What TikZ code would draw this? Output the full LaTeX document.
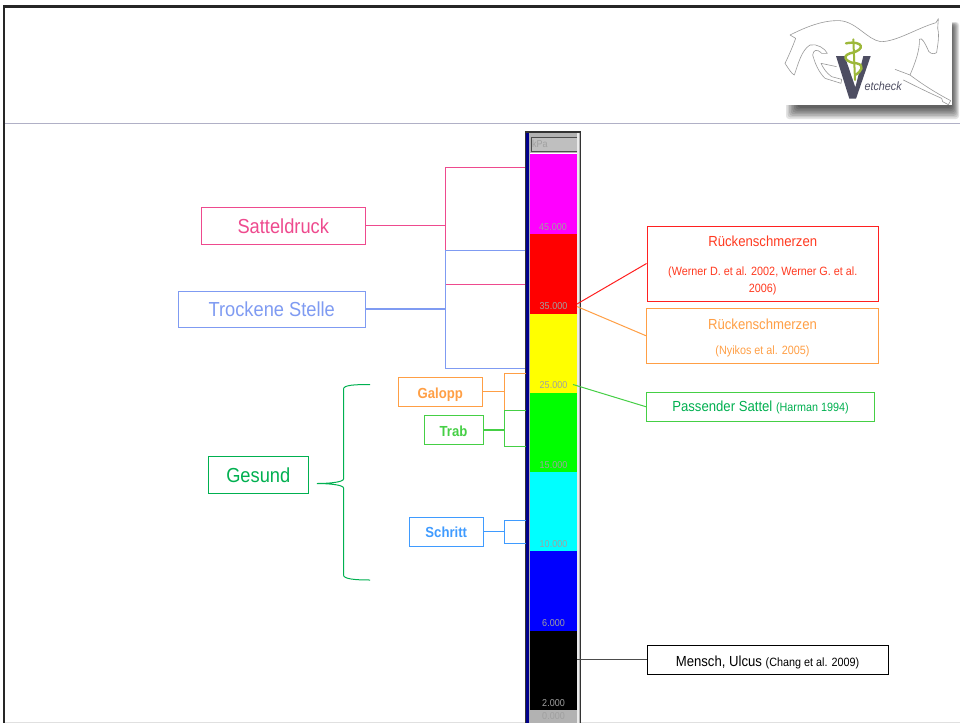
\documentclass[tikz,border=0pt]{standalone}
\usepackage{fontspec}
\setmainfont[FakeStretch=0.9]{Liberation Sans}
\definecolor{cpink}{HTML}{EE4A8E}
\definecolor{cblue}{HTML}{7F9BF2}
\definecolor{corange}{HTML}{FF9F45}
\definecolor{ctrab}{HTML}{45CF45}
\definecolor{csky}{HTML}{3F9BFF}
\definecolor{cgreen}{HTML}{00B050}
\definecolor{cred}{HTML}{FF2020}
\definecolor{credtext}{HTML}{FF3A20}
\definecolor{cscale}{HTML}{A0A0A0}
\definecolor{rmag}{RGB}{255,0,255}
\definecolor{rred}{RGB}{255,0,0}
\definecolor{ryel}{RGB}{255,255,0}
\definecolor{rgrn}{RGB}{0,255,0}
\definecolor{rcya}{RGB}{0,255,255}
\definecolor{rblu}{RGB}{0,0,255}
\definecolor{rnavy}{RGB}{0,0,140}
\definecolor{rolive}{HTML}{9DB83A}
\definecolor{rslate}{HTML}{4E4E62}
\definecolor{rhead}{HTML}{B0B0C6}
\tikzset{
  box/.style={draw,line width=1pt,rectangle,inner sep=0pt,align=center,anchor=north west},
  conn/.style={line width=1pt},
  segm/.style={rectangle,inner sep=0pt,minimum width=47pt,anchor=north west,fill=#1},
  tick/.style={font=\fontsize{10}{11}\selectfont,text=cscale,inner sep=0pt},
  big/.style={font=\fontsize{20.3}{22}\selectfont},
  mid/.style={font=\fontsize{14.6}{16}\selectfont},
  bold/.style={font=\fontsize{14.6}{16}\selectfont\bfseries},
}
\newcommand{\cit}[1]{{\fontsize{12}{13}\selectfont #1}}
\newcommand{\dn}[2]{\setbox0\hbox{\color{.}#2}\rule{0pt}{\dimexpr\ht0+#1pt+#1pt\relax}\box0 }
\begin{document}
\begin{tikzpicture}[x=1pt,y=-1pt]
\useasboundingbox (0,0) rectangle (960,723);
\fill[white] (0,0) rectangle (960,723);
% frame
\fill[black!85] (3,5) rectangle (960,7.5);
\fill[black!85] (3,5) rectangle (5.2,723);
\draw[line width=1.2pt,color=rhead] (5,123.5) -- (960,123.5);
\draw[line width=1pt,color=black!12] (5,722.5) -- (960,722.5);
% logo shadow
\foreach \o in {0,1,...,7}{
  \fill[black,opacity=.11,rounded corners=3pt] (786+1.6*\o,22+\o*.5) rectangle (959-\o,119-1.6*\o);
}
\fill[white] (785,18) rectangle (952,105);
\begin{scope}[shift={(760,0)},x=.33333pt,y=-.33333pt]
\draw[black!40,line width=.6pt,line join=round]
  (90,105) .. controls (140,80) and (190,60) .. (240,62)
  .. controls (290,66) and (320,118) .. (362,125)
  .. controls (410,125) and (470,85) .. (528,68)
  -- (535,56) -- (533,85) .. controls (540,110) and (530,150) .. (530,158)
  .. controls (520,165) and (505,160) .. (502,145)
  .. controls (495,130) and (485,110) .. (478,118)
  .. controls (480,150) and (465,190) .. (450,225)
  -- (405,208);
\draw[black!40,line width=.6pt,line join=round]
  (450,225) .. controls (490,255) and (530,280) .. (572,302) -- (565,314) -- (548,305) -- (545,295)
  .. controls (510,280) and (460,255) .. (430,240);
\draw[black!40,line width=.6pt,line join=round]
  (90,105) -- (107,115) .. controls (98,140) and (85,170) .. (75,190)
  .. controls (85,205) and (95,222) .. (103,225)
  .. controls (115,190) and (125,150) .. (150,135)
  .. controls (170,130) and (195,145) .. (202,160)
  -- (185,160) .. controls (170,145) and (160,150) .. (158,165)
  .. controls (165,190) and (175,215) .. (195,235)
  -- (243,250) -- (245,238) -- (215,230)
  .. controls (200,220) and (190,205) .. (183,190)
  -- (230,200);
\fill[rslate] (228,168) -- (254,168) -- (286,262) -- (310,168) -- (332,168) -- (288,296) -- (268,296) -- cycle;
\draw[rolive,line width=2pt,line cap=round] (280,118) -- (285,240);
\draw[rolive,line width=2.4pt,line cap=round]
  (258,130) .. controls (310,120) and (320,150) .. (270,160)
  .. controls (240,170) and (265,190) .. (290,190)
  .. controls (315,195) and (305,215) .. (285,225);
\node[inner sep=0pt,anchor=west,font=\fontsize{12}{13}\selectfont\itshape,text=rslate] (logotext) at (313,258) {etcheck};
\end{scope}
% colour bar
\fill[black!80] (525,131) rectangle (581,723);
\fill[black!30] (529,133) rectangle (580,723);
\fill[black!8] (577,133) rectangle (578.5,723);
\fill[rnavy] (525.5,133) rectangle (528.8,723);
\node[rectangle,inner sep=0pt,minimum width=46pt,minimum height=14pt,fill=black!25,anchor=north west] (kpa) at (531,137) {};
\draw[black!70,line width=1pt] (kpa.south east) -- (kpa.south west) -- (kpa.north west) -- (kpa.north east);
\fill[white] (530,152.5) rectangle (577,154);
\node[segm=rmag,minimum height=80pt] (s1) at (530,154) {};
\node[segm=rred,minimum height=79.5pt] (s2) at (530,234) {};
\node[segm=ryel,minimum height=79.5pt] (s3) at (530,313.5) {};
\node[segm=rgrn,minimum height=79pt] (s4) at (530,393) {};
\node[segm=rcya,minimum height=79pt] (s5) at (530,472) {};
\node[segm=rblu,minimum height=79.5pt] (s6) at (530,551) {};
\node[segm=black,minimum height=79.5pt] (s7) at (530,630.5) {};
\node[tick,anchor=west] (tk) at (532,143.5) {kPa};
\node[tick] (t45) at (553,227.5) {45.000};
\node[tick] (t35) at (553.5,306.5) {35.000};
\node[tick] (t25) at (553.5,385.5) {25.000};
\node[tick] (t15) at (553.5,465) {15.000};
\node[tick] (t10) at (553.5,544.5) {10.000};
\node[tick] (t6) at (553.5,623.5) {6.000};
\node[tick] (t2) at (553.5,703) {2.000};
\node[tick] (t0) at (553.5,716.5) {0.000};
% left boxes
\node[box,draw=cpink,text=cpink,big,minimum width=164.5pt,minimum height=37pt] (satt) at (200.5,206.5) {\dn{1}{Satteldruck}};
\node[box,draw=cblue,text=cblue,big,minimum width=187.5pt,minimum height=36pt] (trock) at (177.5,290.5) {\dn{.5}{Trockene Stelle}};
\node[box,draw=cgreen,text=cgreen,big,minimum width=100.5pt,minimum height=37pt] (ges) at (207.5,455.5) {\dn{1}{Gesund}};
\node[box,draw=corange,text=corange,bold,minimum width=84.5pt,minimum height=29.5pt] (gal) at (397.5,376.5) {\dn{2.5}{Galopp}};
\node[box,draw=ctrab,text=ctrab,bold,minimum width=59pt,minimum height=29pt] (trab) at (423.5,415) {\dn{1}{Trab}};
\node[box,draw=csky,text=csky,bold,minimum width=73.5pt,minimum height=29.5pt] (schr) at (409,516.5) {\dn{1}{Schritt}};
% right boxes
\node[box,draw=cred,text=credtext,mid,minimum width=231.5pt,minimum height=75pt] (rredb) at (646.5,225.5) {\rule{0pt}{15pt}R\"uckenschmerzen\\[13pt]\cit{(Werner D. et al. 2002, Werner G. et al.}\\[1pt]\cit{2006)}};
\node[box,draw=corange,text=corange,mid,minimum width=232pt,minimum height=54.5pt] (rora) at (646,308) {\rule{0pt}{15pt}R\"uckenschmerzen\\[9pt]\cit{(Nyikos et al. 2005)}};
\node[box,draw=ctrab,text=cgreen,mid,minimum width=228pt,minimum height=29.5pt] (rpas) at (646,391.5) {\dn{1}{Passender Sattel \cit{(Harman 1994)}}};
\node[box,draw=black,text=black,mid,minimum width=241pt,minimum height=29pt] (rmen) at (646.5,644.5) {\dn{2.5}{Mensch, Ulcus \cit{(Chang et al. 2009)}}};
% bracket coordinates
\coordinate (pm) at (445,225.5);
\coordinate (ptl) at (445,167);
\coordinate (pbl) at (445,284.5);
\coordinate (ptr) at (525,167);
\coordinate (pbr) at (525,284.5);
\coordinate (bm) at (445,309);
\coordinate (btl) at (445,250.5);
\coordinate (bbl) at (445,368);
\coordinate (btr) at (525,250.5);
\coordinate (bbr) at (525,368);
\draw[conn,cpink] (satt.east) -- (satt.east -| pm);
\draw[conn,cpink] (ptr) -- (ptl) -- (pbl) -- (pbr);
\draw[conn,cblue,line width=1.2pt] (trock.east) -- (trock.east -| bm);
\draw[conn,cblue] (btr) -- (btl) -- (bbl) -- (bbr);
\coordinate (gm) at (504.5,391.5);
\coordinate (gtl) at (504.5,373.5);
\coordinate (gbl) at (504.5,410);
\coordinate (gtr) at (526,373.5);
\coordinate (gbr) at (526,410);
\coordinate (tm) at (504.5,429);
\coordinate (tbl) at (504.5,446.5);
\coordinate (tbr) at (526,446.5);
\coordinate (tbrr) at (526,410.5);
\coordinate (tbll) at (504.5,410.5);
\coordinate (sm) at (504,531.5);
\coordinate (stl) at (504,520.5);
\coordinate (sbl) at (504,543);
\coordinate (str) at (526,520.5);
\coordinate (sbr) at (526,543);
\draw[conn,corange] (gal.east) -- (gal.east -| gm);
\draw[conn,corange] (gtr) -- (gtl) -- (gbl) -- (gbr);
\draw[conn,ctrab,line width=1.3pt] (trab.east) -- (trab.east -| tm);
\draw[conn,ctrab] (tbrr) -- (tbll) -- (tbl) -- (tbr);
\draw[conn,csky] (schr.east) -- (schr.east -| sm);
\draw[conn,csky] (str) -- (stl) -- (sbl) -- (sbr);
% brace
\coordinate (btop) at (370,384.5);
\coordinate (bbot) at (370,580);
\coordinate (btip) at (317,483.5);
\draw[conn,cgreen] (btop) .. controls (355,384.5) and (343.5,385) .. (343.5,389)
  -- (343.5,479) .. controls (343.5,482) and (330,483.5) .. (btip)
  .. controls (330,483.5) and (343.5,485) .. (343.5,488)
  -- (343.5,575) .. controls (343.5,579) and (355,580) .. (bbot);
% right connectors
\coordinate (cr) at (577,304);
\coordinate (co) at (577,306.5);
\coordinate (cg) at (573,384.5);
\coordinate (cb) at (577,661);
\draw[conn,cred] (rredb.west) -- (cr);
\draw[conn,corange] (rora.west) -- (co);
\draw[conn,ctrab] (rpas.west) -- (cg);
\draw[conn,black!70] (rmen.west) -- (rmen.west -| cb);
\end{tikzpicture}
\end{document}
